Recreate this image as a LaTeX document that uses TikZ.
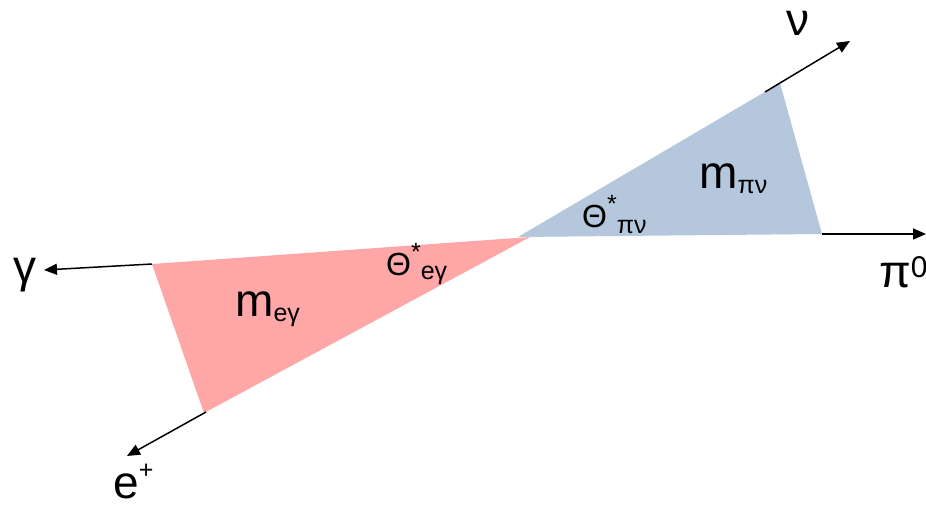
\documentclass[tikz,border=0pt]{standalone}
\usepackage{fontspec}
\setmainfont{Liberation Sans}
\usetikzlibrary{arrows.meta}
\definecolor{redfill}{RGB}{255,166,166}
\definecolor{bluefill}{RGB}{180,199,220}
\tikzset{
  particle/.style={draw=black, line width=1.5pt, -{Triangle[length=13pt,width=11pt]}},
  lbl/.style={inner sep=0pt, anchor=base west},
}
\newcommand{\bigf}{\fontsize{46}{50}\selectfont}
\newcommand{\midf}{\fontsize{32}{36}\selectfont}
\newcommand{\supf}{\fontsize{30}{34}\selectfont}
\newcommand{\subf}{\fontsize{25}{28}\selectfont}
\begin{document}
\begin{tikzpicture}[x=1pt,y=-1pt]
\useasboundingbox (0,0) rectangle (926,506);
% vertices
\coordinate (Ob) at (518,237);
\coordinate (Or) at (530,237);
\coordinate (B1) at (780,83);
\coordinate (B2) at (822,234);
\coordinate (R1) at (152,264);
\coordinate (R2) at (204,413);
% arrow end points
\coordinate (nuS) at (765,92);
\coordinate (nuE) at (850,41);
\coordinate (piE) at (926,234);
\coordinate (gaE) at (44,270);
\coordinate (ePS) at (206,412);
\coordinate (ePE) at (127,456);
% triangles
\fill[bluefill] (Ob) -- (B1) -- (B2) -- cycle;
\fill[redfill] (Or) -- (R1) -- (R2) -- cycle;
% arrows
\draw[particle] (nuS) -- (nuE);
\draw[particle] (B2) -- (piE);
\draw[particle] (R1) -- (gaE);
\draw[particle] (ePS) -- (ePE);
% labels
\node[lbl] (nu) at (786,35) {\bigf ν};
\node[lbl] (pi0) at (879,287) {\bigf π\raisebox{10pt}{\supf 0}};
\node[lbl] (gam) at (13,282) {\bigf γ};
\node[lbl] (ep) at (113,498) {\bigf e\raisebox{0.42em}{\subf +}};
\node[lbl] (meg) at (235,316) {\bigf m\raisebox{-0.12em}{\subf eγ}};
\node[lbl] (mpn) at (699,188) {\bigf m\raisebox{-0.12em}{\subf πν}};
\node[lbl] (teg) at (386,275) {\midf Θ\raisebox{0.45em}{\subf *}\raisebox{-0.15em}{\subf eγ}};
\node[lbl] (tpn) at (582,227) {\midf Θ\raisebox{0.45em}{\subf *}\raisebox{-0.2em}{\subf πν}};
\end{tikzpicture}
\end{document}
